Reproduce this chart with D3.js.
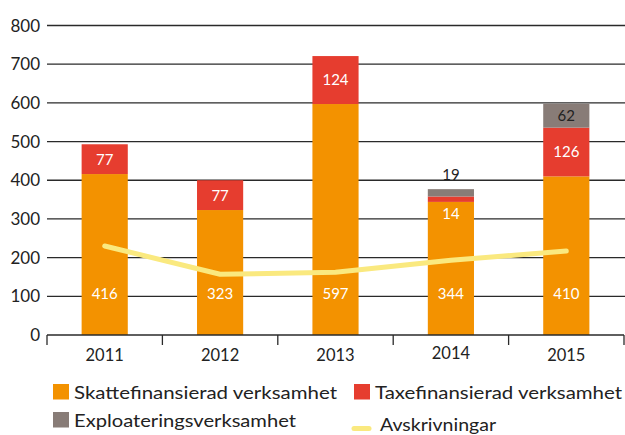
<!DOCTYPE html>
<html>
<head>
<meta charset="utf-8">
<script src="https://cdn.jsdelivr.net/npm/d3@7"></script>
<style>
  html, body { margin: 0; padding: 0; background: #fff; }
  svg { display: block; font-family: Lato, "Open Sans", sans-serif; }
</style>
</head>
<body>
<svg id="chart" width="625" height="435"></svg>
<script>
// Investments per year, split by activity, with depreciation as a line
const years = ["2011", "2012", "2013", "2014", "2015"];
const skatte = [416, 323, 597, 344, 410];
const taxe = [77, 77, 124, 14, 126];
const exploatering = [0, 0, 0, 19, 62];
const avskrivningar = [230, 157, 162, 193, 217];
const yTicks = [0, 100, 200, 300, 400, 500, 600, 700, 800];

const seriesNames = ["Skattefinansierad verksamhet", "Taxefinansierad verksamhet", "Exploateringsverksamhet", "Avskrivningar"];
const colors = { skatte: "#f39200", taxe: "#e63d2f", expl: "#887c77", line: "#fae97f" };

const svg = d3.select("#chart");
const plotLeft = 47, plotRight = 624, plotTop = 25.5, plotBottom = 335;

const x = d3.scaleBand().domain(years).range([plotLeft, plotRight]).padding(0);
const y = d3.scaleLinear().domain([0, 800]).range([plotBottom, plotTop]);
const barW = x.bandwidth() * 0.4;

// gridlines and y labels
const grid = svg.append("g");
grid.selectAll("line").data(yTicks.filter(d => d > 0)).join("line")
  .attr("x1", plotLeft).attr("x2", 625)
  .attr("y1", d => y(d)).attr("y2", d => y(d))
  .attr("stroke", "#2a2a2a").attr("stroke-width", 1.3);
grid.selectAll("text").data(yTicks).join("text")
  .attr("x", 40).attr("y", d => y(d))
  .attr("dy", "0.36em").attr("text-anchor", "end")
  .attr("font-size", 17).attr("fill", "#222")
  .text(d => d);

// stacked bars
const rows = years.map((yr, i) => ({ year: yr, skatte: skatte[i], taxe: taxe[i], expl: exploatering[i] }));
const stack = d3.stack().keys(["skatte", "taxe", "expl"])(rows);
const barsG = svg.append("g");
stack.forEach(layer => {
  barsG.append("g").attr("fill", colors[layer.key])
    .selectAll("rect").data(layer).join("rect")
    .attr("x", d => x(d.data.year) + (x.bandwidth() - barW) / 2)
    .attr("width", barW)
    .attr("y", d => y(d[1]))
    .attr("height", d => y(d[0]) - y(d[1]));
});

// x axis: baseline, boundary ticks, year labels
const axisG = svg.append("g");
axisG.append("line").attr("x1", plotLeft).attr("x2", plotRight)
  .attr("y1", plotBottom).attr("y2", plotBottom)
  .attr("stroke", "#2a2a2a").attr("stroke-width", 1.3);
const bounds = years.map(yr => x(yr)).concat([x(years[years.length - 1]) + x.bandwidth()]);
axisG.selectAll("line.tick").data(bounds).join("line").attr("class", "tick")
  .attr("x1", d => d).attr("x2", d => d)
  .attr("y1", plotBottom).attr("y2", plotBottom + 10)
  .attr("stroke", "#2a2a2a").attr("stroke-width", 1.3);
axisG.selectAll("text").data(years).join("text")
  .attr("x", d => x(d) + x.bandwidth() / 2).attr("y", d => d === "2014" ? 353 : 355)
  .attr("dy", "0.36em").attr("text-anchor", "middle")
  .attr("font-size", 16.5).attr("fill", "#222")
  .text(d => d);

// depreciation line
const cx = yr => x(yr) + x.bandwidth() / 2;
svg.append("path")
  .datum(years.map((yr, i) => [cx(yr), y(avskrivningar[i])]))
  .attr("fill", "none").attr("stroke", colors.line)
  .attr("stroke-width", 5).attr("stroke-linecap", "round").attr("stroke-linejoin", "round")
  .attr("d", d3.line().curve(d3.curveLinear));

// value labels
const lab = svg.append("g").attr("font-size", 15).attr("text-anchor", "middle");
// base segment labels sit at a fixed height near the bottom
lab.selectAll("text.s").data(rows).join("text").attr("class", "s")
  .attr("x", d => cx(d.year)).attr("y", plotBottom - 41)
  .attr("dy", "0.36em").attr("fill", "#fff").text(d => d.skatte);
lab.selectAll("text.t").data(rows).join("text").attr("class", "t")
  .attr("x", d => cx(d.year))
  .attr("y", d => d.taxe >= 40 ? y(d.skatte + d.taxe / 2) : y(d.skatte) + 12)
  .attr("dy", "0.36em").attr("fill", "#fff").text(d => d.taxe);
lab.selectAll("text.e").data(rows.filter(d => d.expl > 0)).join("text").attr("class", "e")
  .attr("x", d => cx(d.year))
  .attr("y", d => d.expl >= 40 ? y(d.skatte + d.taxe + d.expl / 2) : y(d.skatte + d.taxe + d.expl) - 15)
  .attr("dy", "0.36em").attr("fill", "#222").text(d => d.expl);

// legend
const leg = svg.append("g").attr("font-size", 17).attr("fill", "#222");
const legItems = [
  { name: seriesNames[0], color: colors.skatte, x: 53, y: 384, kind: "box", w: 263 },
  { name: seriesNames[1], color: colors.taxe, x: 354, y: 384, kind: "box", w: 247 },
  { name: seriesNames[2], color: colors.expl, x: 53, y: 412, kind: "box", w: 222 },
  { name: seriesNames[3], color: colors.line, x: 352, y: 419, kind: "line", w: 116 }
];
legItems.forEach(it => {
  if (it.kind === "box") {
    leg.append("rect").attr("x", it.x).attr("y", it.y).attr("width", 16).attr("height", 15.5).attr("fill", it.color);
    leg.append("text").attr("x", it.x + 21).attr("y", it.y + 15)
      .attr("textLength", it.w).attr("lengthAdjust", "spacingAndGlyphs").text(it.name);
  } else {
    leg.append("line").attr("x1", it.x + 2).attr("x2", it.x + 17)
      .attr("y1", it.y + 9.5).attr("y2", it.y + 9.5)
      .attr("stroke", it.color).attr("stroke-width", 5).attr("stroke-linecap", "round");
    leg.append("text").attr("x", it.x + 28).attr("y", it.y + 12)
      .attr("textLength", it.w).attr("lengthAdjust", "spacingAndGlyphs").text(it.name);
  }
});
</script>
</body>
</html>
